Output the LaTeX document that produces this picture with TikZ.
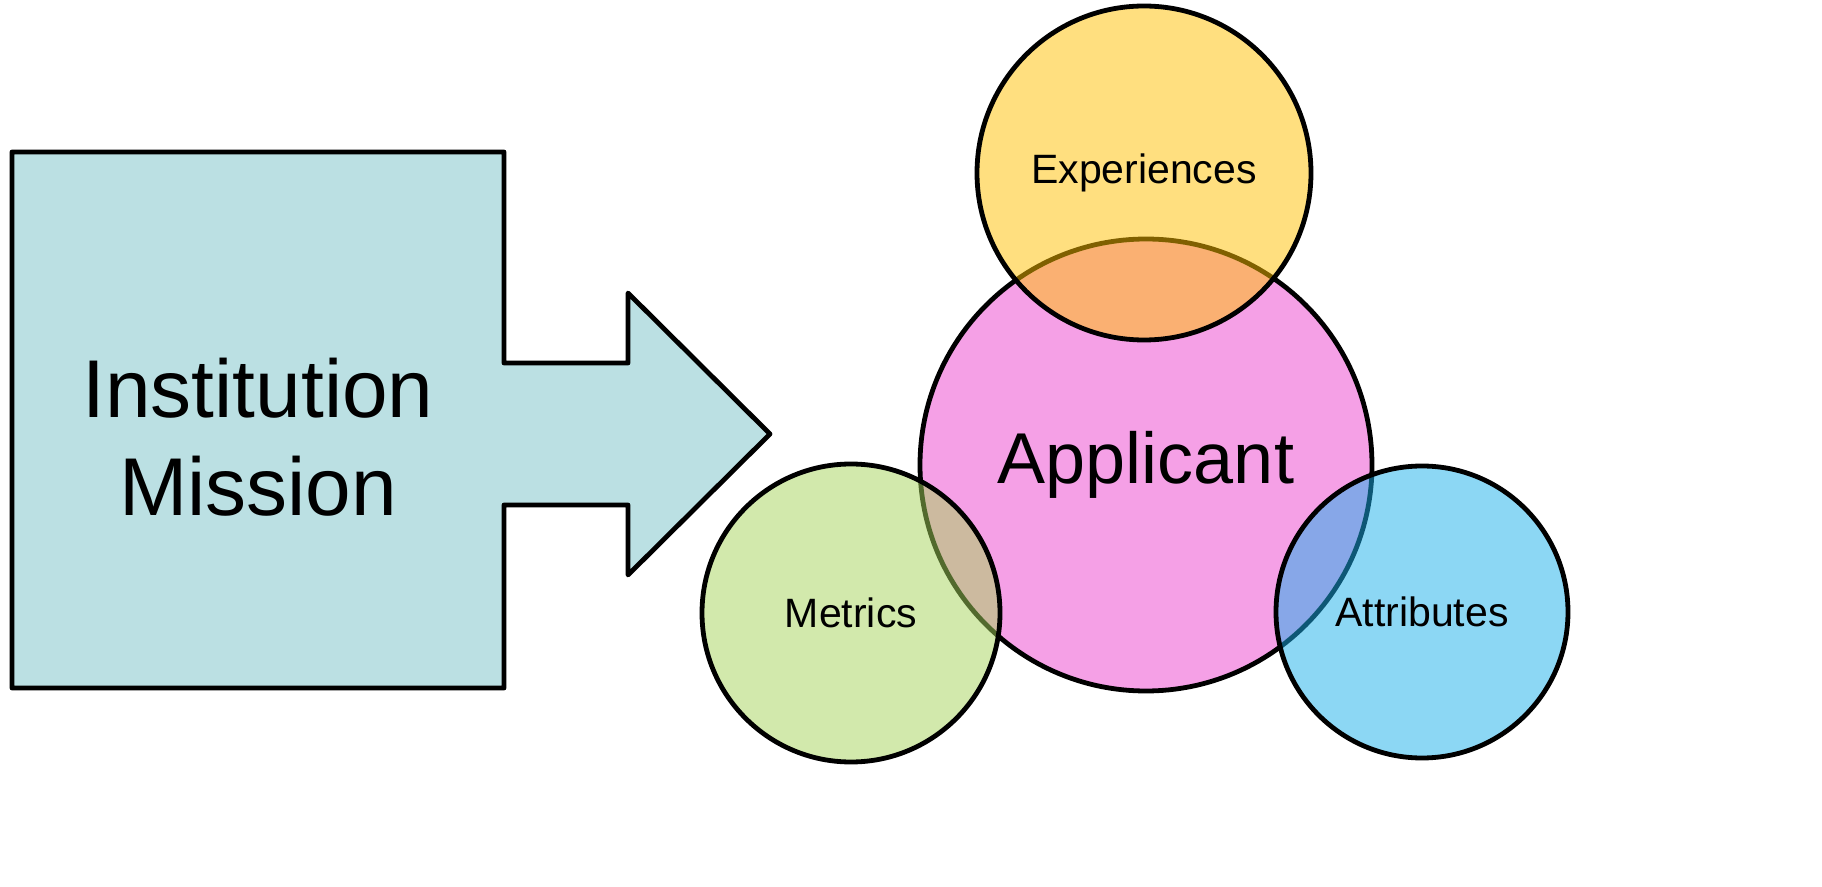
\documentclass[tikz,border=0pt]{standalone}
\usepackage{fontspec}
\setmainfont{Liberation Sans}
\usetikzlibrary{positioning}

\definecolor{boxblue}{HTML}{BBE0E3}
\definecolor{applpink}{HTML}{F5A0E6}
\definecolor{expyellow}{HTML}{FFC000}
\definecolor{metgreen}{HTML}{A5D45A}
\definecolor{attcyan}{HTML}{1AAFEA}

\begin{document}
\begin{tikzpicture}[x=0.5pt, y=-0.5pt, line width=2.4pt, line join=round,
    bubble/.style = {circle, draw=black, inner sep=0pt, align=center},
    overlay bubble/.style = {bubble, fill opacity=0.5, text opacity=1},
    small label/.style = {font=\fontsize{20.5}{25}\selectfont},
    big label/.style = {font=\fontsize{36}{43}\selectfont}]
  \useasboundingbox (0,0) rectangle (1822,887);
  % mission block with arrow
  \draw[fill=boxblue] (12,152) -- (504,152) -- (504,363) -- (628,363) -- (628,293)
    -- (770,434) -- (628,575) -- (628,505) -- (504,505) -- (504,688) -- (12,688) -- cycle;
  \node[align=center, font=\fontsize{41}{49}\selectfont] (mission) at (258,437) {Institution\\Mission};
  % applicant and its three parts
  \node[bubble, fill=applpink, minimum size=226pt, big label] (applicant) at (1146,465) {Applicant};
  \node[overlay bubble, fill=expyellow, minimum size=167pt, small label] (experiences) at (1144,173) {Experiences};
  \node[overlay bubble, fill=metgreen, minimum size=149pt, small label] (metrics) at (851,613) {Metrics};
  \node[overlay bubble, fill=attcyan, minimum size=146pt, small label] (attributes) at (1422,612) {Attributes};
\end{tikzpicture}
\end{document}
